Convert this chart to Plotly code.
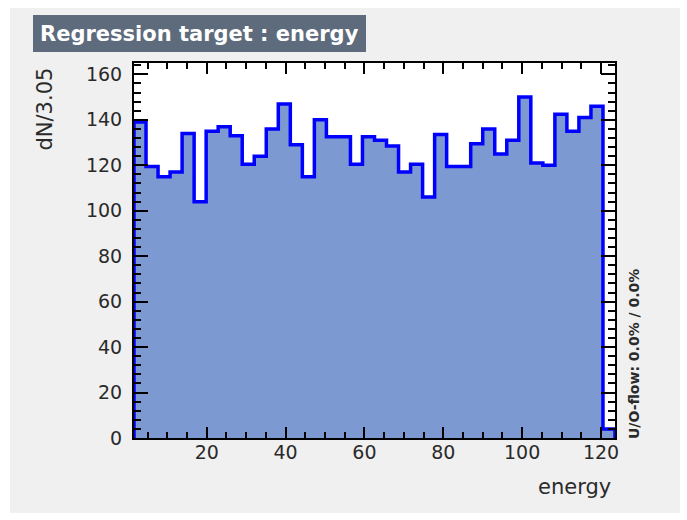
import numpy as np
import plotly.graph_objects as go

# ---- data ----
x_min = 1.55
bin_width = 3.05
counts = [139, 119.5, 115, 117, 134, 104, 135, 137, 133, 120.5,
          124, 136, 147, 129, 115, 140, 132.5, 132.5, 120.5, 132.5,
          131, 128.5, 117, 120.5, 106, 133.5, 119.5, 119.5, 129.5, 136,
          125, 131, 150, 121, 120, 142.5, 135, 141, 146, 4]
x_tick_vals = [20, 40, 60, 80, 100, 120]
y_tick_vals = [0, 20, 40, 60, 80, 100, 120, 140, 160]
title_text = "Regression target : energy"
y_title = "dN/3.05"
x_title = "energy"
flow_text = "U/O-flow: 0.0% / 0.0%"

n = len(counts)
edges = x_min + bin_width * np.arange(n + 1)
x_max = edges[-1]
y_max = 165

# step outline: (e0,0) -> (e0,v0) -> (e1,v1) ... -> (eN,0) with hv shape
xs = np.concatenate([[edges[0]], edges[:-1], [edges[-1]]])
ys = np.concatenate([[0], counts, [0]])

fig = go.Figure()
fig.add_trace(go.Scatter(
    x=xs, y=ys, mode="lines", line=dict(shape="hv", color="#0000ff", width=3.5),
    fill="tozeroy", fillcolor="#7d99d1", hoverinfo="skip", showlegend=False))

# ---- layout geometry (pixels) ----
W_FIG, H_FIG = 687, 520
L, R, T, B = 134, 615, 63, 438
PW, PH = R - L, B - T


def px_x(p):
    return (p - L) / PW


def px_y(p):
    return (B - p) / PH


FONT = "DejaVu Sans"
TXT = "#2a2a2a"
axis_common = dict(
    showline=True, linecolor="black", linewidth=2, mirror="allticks",
    ticks="inside", tickcolor="black", tickwidth=1.5,
    showgrid=False, zeroline=False,
    tickfont=dict(family=FONT, size=19, color=TXT),
)

fig.update_xaxes(
    range=[x_min, x_max], tickvals=x_tick_vals, ticklen=11,
    minor=dict(dtick=5, tick0=0, ticklen=6, ticks="inside", tickcolor="black", tickwidth=1.5, showgrid=False),
    ticklabelstandoff=-4, **axis_common)
fig.update_yaxes(
    range=[0, y_max], tickvals=y_tick_vals, ticklen=14,
    minor=dict(dtick=4, tick0=0, ticklen=7, ticks="inside", tickcolor="black", tickwidth=1.5, showgrid=False),
    ticklabelstandoff=6, **axis_common)

shapes = [
    # grey canvas
    dict(type="rect", xref="paper", yref="paper", layer="below",
         x0=px_x(10), x1=px_x(680), y0=px_y(513), y1=px_y(8),
         fillcolor="#f0f0f0", line=dict(width=0)),
    # white frame area
    dict(type="rect", xref="paper", yref="paper", layer="below",
         x0=0, x1=1, y0=0, y1=1, fillcolor="white", line=dict(width=0)),
    # title box
    dict(type="rect", xref="paper", yref="paper", layer="above",
         x0=px_x(33), x1=px_x(366), y0=px_y(52), y1=px_y(15),
         fillcolor="#5d6b7d", line=dict(width=0)),
]

annotations = [
    dict(text=title_text, xref="paper", yref="paper", x=px_x(38), y=px_y(33.5),
         xanchor="left", yanchor="middle", showarrow=False,
         font=dict(family=FONT, size=21, color="white", weight="bold")),
    dict(text=y_title, xref="paper", yref="paper", x=px_x(44), y=px_y(66),
         xanchor="center", yanchor="top", textangle=-90, showarrow=False,
         font=dict(family=FONT, size=21, color=TXT)),
    dict(text=x_title, xref="paper", yref="paper", x=px_x(613), y=px_y(487),
         xanchor="right", yanchor="middle", showarrow=False,
         font=dict(family=FONT, size=21, color=TXT)),
    dict(text=flow_text, xref="paper", yref="paper", x=px_x(634), y=px_y(441),
         xanchor="center", yanchor="bottom", textangle=-90, showarrow=False,
         font=dict(family=FONT, size=14, color=TXT, weight="bold")),
]

fig.update_layout(
    width=W_FIG, height=H_FIG,
    margin=dict(l=L, r=W_FIG - R, t=T, b=H_FIG - B, pad=0),
    paper_bgcolor="white", plot_bgcolor="white",
    shapes=shapes, annotations=annotations, showlegend=False,
)

fig.write_html("out.html")
